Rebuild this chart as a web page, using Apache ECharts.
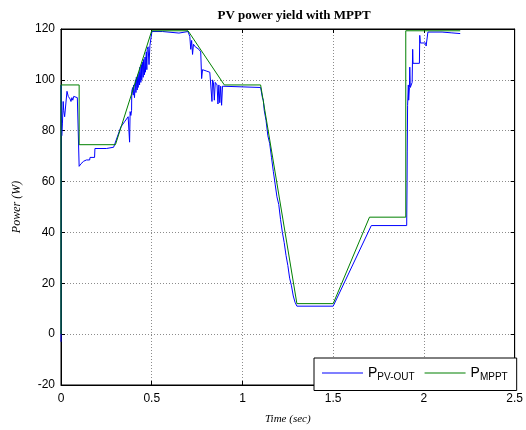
<!DOCTYPE html>
<html>
<head>
<meta charset="utf-8">
<script src="https://cdn.jsdelivr.net/npm/echarts@6/dist/echarts.min.js"></script>
<style>
  html, body { margin: 0; padding: 0; background: #fff; }
  #chart { width: 526px; height: 430px; }
</style>
</head>
<body>
<div id="chart"></div>
<script>
// P_PV-OUT (blue)
const pvTime = [
  0, 0.001, 0.004, 0.008, 0.012, 0.015, 0.02, 0.025, 0.03, 0.033, 0.04, 0.05, 0.055, 0.06, 0.065, 0.07, 0.08, 0.09, 0.1,
  0.1, 0.105, 0.11, 0.118, 0.125, 0.13, 0.14, 0.158, 0.16, 0.185, 0.187, 0.25, 0.29, 0.3,
  0.33, 0.35, 0.37, 0.375, 0.378, 0.381, 0.385, 0.389, 0.39,
  0.395, 0.398, 0.4, 0.405, 0.41, 0.413, 0.415, 0.42, 0.423, 0.425, 0.43, 0.433, 0.435, 0.44, 0.443, 0.445, 0.45, 0.453,
  0.455, 0.46, 0.463, 0.465, 0.47, 0.473, 0.475, 0.48, 0.485, 0.49, 0.5,
  0.501, 0.56, 0.562, 0.65, 0.652, 0.7,
  0.71, 0.715, 0.72, 0.725, 0.73, 0.74, 0.76, 0.77, 0.775, 0.78, 0.8, 0.82, 0.83, 0.832, 0.835, 0.84, 0.845, 0.85, 0.86,
  0.865, 0.87, 0.875, 0.88, 0.885, 0.89, 0.9, 1.1,
  1.105, 1.11, 1.115, 1.12, 1.13, 1.14, 1.15, 1.16, 1.17, 1.18, 1.19, 1.2, 1.21, 1.22, 1.23, 1.24, 1.25, 1.26, 1.27, 1.28, 1.29, 1.3,
  1.5, 1.71, 1.905,
  1.907, 1.908, 1.91, 1.912, 1.914, 1.916, 1.92, 1.922, 1.925, 1.935, 1.938, 1.94, 1.975, 1.977, 1.98, 2.01, 2.012, 2.02, 2.022,
  2.1, 2.15, 2.2
];
const pvPower = [
  -3, 98, 78, 83, 91.5, 88, 85.5, 85, 86, 95.5, 93.5, 92.5, 91.5, 93, 92, 93.5, 93.5, 93, 93,
  66, 65.5, 67, 66.5, 68, 67.5, 68.5, 68.5, 69.5, 69.5, 73, 73, 73.5, 74,
  81.5, 83.5, 85.5, 86, 75.5, 87.5, 86, 88, 95.5,
  97, 94, 98, 93, 100, 95, 101, 96, 102, 97, 103, 98, 105, 99, 106, 100, 107, 101,
  108, 102, 109, 103, 111, 104, 112, 113, 106, 113.5, 113.5,
  119, 119, 118.4, 118.4, 119, 119,
  117, 112, 115.5, 110, 114, 113, 112, 111, 100.5, 104, 103.5, 103, 102.5, 91.5, 100, 99, 92, 99, 98,
  90.5, 98, 91, 97.5, 90, 97.5, 97, 97,
  96.5, 93, 92, 88, 84, 78, 75, 69.5, 64, 59, 54, 51, 45, 40, 36, 31, 27, 22, 19, 15, 12.5, 11,
  11, 42.7, 42.7,
  60, 72, 90, 90.5, 98, 92, 97, 105, 97, 99, 112, 106.5, 106.5, 117.5, 114.5, 114.5, 113.3, 113.3, 118.8,
  118.8, 118.5, 118.2
];

// P_MPPT (green)
const mpptTime = [0, 0, 0.1, 0.1, 0.3, 0.5, 0.7, 0.9, 1.1, 1.3, 1.5, 1.7, 1.9, 1.9, 2.2];
const mpptPower = [0, 98, 98, 74.5, 74.5, 119.3, 119.3, 98, 98, 12, 12, 46, 46, 119.3, 119.3];

const seriesNames = ['P_PV-OUT', 'P_MPPT'];

const zip = (xs, ys) => xs.map((x, i) => [x, ys[i]]);

const chart = echarts.init(document.getElementById('chart'));

const tickFont = { color: '#000', fontSize: 12, fontFamily: 'Liberation Sans' };
const gridLine = { show: true, lineStyle: { color: '#8c8c8c', type: [1, 2], width: 1 } };

chart.setOption({
  animation: false,
  backgroundColor: '#fff',
  title: {
    text: 'PV power yield with MPPT',
    left: 289,
    textAlign: 'center',
    top: 4,
    textStyle: { fontFamily: 'Liberation Serif', fontWeight: 'bold', fontSize: 13, color: '#000' }
  },
  grid: {
    left: 61, right: 9, top: 29, bottom: 40,
    show: true, borderColor: '#000', borderWidth: 1, backgroundColor: '#fff'
  },
  legend: {
    left: 314, top: 358,
    data: seriesNames,
    icon: 'rect',
    backgroundColor: '#fff',
    borderColor: '#000',
    borderWidth: 1,
    borderRadius: 0,
    padding: [8, 9, 8, 8],
    itemWidth: 41,
    itemHeight: 1,
    itemGap: 10,
    formatter: name => name === 'P_MPPT' ? '{p|P}{s|MPPT}' : '{p|P}{s|PV-OUT}',
    textStyle: {
      color: '#000',
      rich: {
        p: { fontFamily: 'Liberation Sans', fontSize: 14, color: '#000' },
        s: { fontFamily: 'Liberation Sans', fontSize: 10, color: '#000', padding: [9, 0, 0, 0] }
      }
    }
  },
  xAxis: [{
    type: 'value', min: 0, max: 2.5, interval: 0.5,
    name: 'Time (sec)', nameLocation: 'middle', nameGap: 29,
    nameTextStyle: { fontFamily: 'Liberation Serif', fontStyle: 'italic', fontSize: 11, color: '#000' },
    axisLine: { show: true, onZero: false, lineStyle: { color: '#000' } },
    axisTick: { inside: true, length: 4, lineStyle: { color: '#000' } },
    axisLabel: { ...tickFont, margin: 8 },
    splitLine: gridLine
  }, {
    type: 'value', min: 0, max: 2.5, interval: 0.5, position: 'top',
    axisLine: { show: true, onZero: false, lineStyle: { color: '#000' } },
    axisTick: { inside: true, length: 4, lineStyle: { color: '#000' } },
    axisLabel: { show: false },
    splitLine: { show: false }
  }],
  yAxis: [{
    type: 'value', min: -20, max: 120, interval: 20,
    name: 'Power (W)', nameLocation: 'middle', nameGap: 38,
    nameTextStyle: { fontFamily: 'Liberation Serif', fontStyle: 'italic', fontSize: 12, color: '#000' },
    axisLine: { show: true, onZero: false, lineStyle: { color: '#000' } },
    axisTick: { inside: true, length: 4, lineStyle: { color: '#000' } },
    axisLabel: { ...tickFont, margin: 6 },
    splitLine: gridLine
  }, {
    type: 'value', min: -20, max: 120, interval: 20, position: 'right',
    axisLine: { show: true, onZero: false, lineStyle: { color: '#000' } },
    axisTick: { inside: true, length: 4, lineStyle: { color: '#000' } },
    axisLabel: { show: false },
    splitLine: { show: false }
  }],
  series: [{
    name: seriesNames[0],
    type: 'line',
    data: zip(pvTime, pvPower),
    symbol: 'none',
    lineStyle: { color: '#0000ff', width: 1 },
    itemStyle: { color: '#0000ff' },
    z: 3
  }, {
    name: seriesNames[1],
    type: 'line',
    data: zip(mpptTime, mpptPower),
    symbol: 'none',
    lineStyle: { color: '#008000', width: 1 },
    itemStyle: { color: '#008000' },
    z: 4
  }]
});
</script>
</body>
</html>
